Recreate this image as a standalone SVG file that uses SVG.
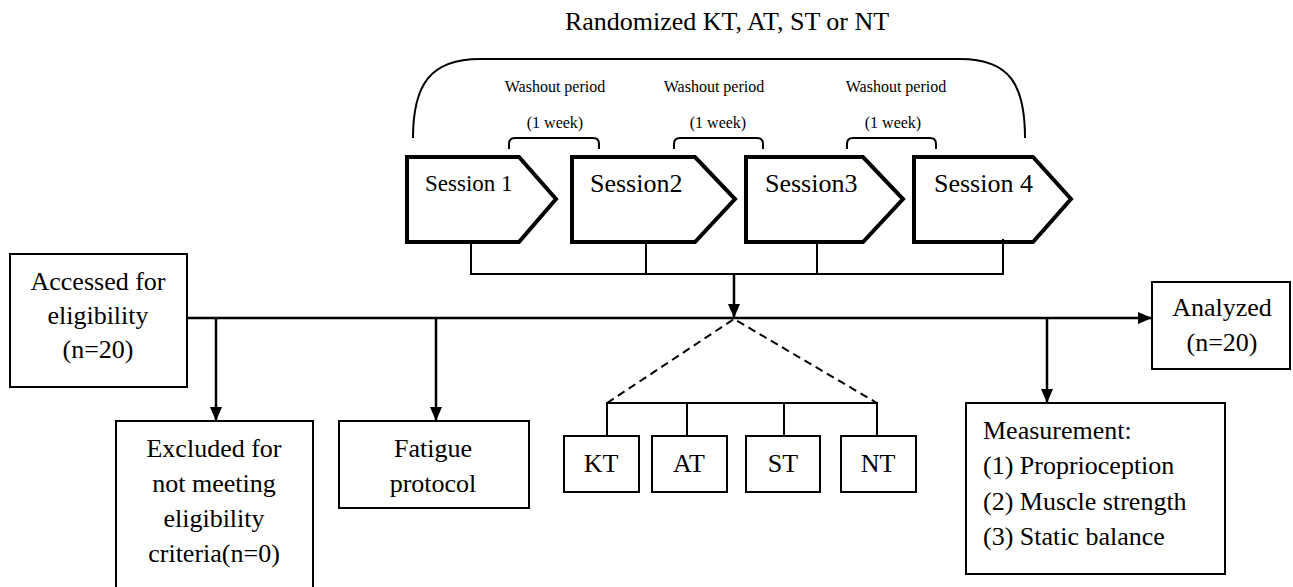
<svg xmlns="http://www.w3.org/2000/svg" width="1293" height="587" viewBox="0 0 1293 587">
<defs>
<style>
text{font-family:"Liberation Serif","Times New Roman",serif;fill:#000;}
.t26{font-size:26px;}
.t16{font-size:16px;}
.box{fill:#fff;stroke:#000;stroke-width:2;}
.sess{fill:#fff;stroke:#000;stroke-width:4;stroke-linejoin:miter;}
.ln{fill:none;stroke:#000;stroke-width:2.5;}
.thin{fill:none;stroke:#000;stroke-width:2;}
.dash{fill:none;stroke:#000;stroke-width:2;stroke-dasharray:8,5;}
</style>
<marker id="ah" markerUnits="userSpaceOnUse" markerWidth="14" markerHeight="12" refX="14" refY="6" orient="auto">
<path d="M0,0 L14,6 L0,12 z" fill="#000"/>
</marker>
</defs>
<rect width="1293" height="587" fill="#fff"/>

<g id="title">
<text class="t26" x="727" y="30" text-anchor="middle">Randomized KT, AT, ST or NT</text>
<path class="thin" d="M413,138 C413,85 430,59 480,59 L960,59 C1010,59 1025,85 1025,138"/>
</g>

<g id="washouts">
<text class="t16" x="555" y="92" text-anchor="middle">Washout period</text>
<text class="t16" x="555" y="128" text-anchor="middle">(1 week)</text>
<path class="thin" d="M509,149 L509,144 Q509,138 515,138 L593,138 Q599,138 599,144 L599,149"/>
<text class="t16" x="714" y="92" text-anchor="middle">Washout period</text>
<text class="t16" x="718" y="128" text-anchor="middle">(1 week)</text>
<path class="thin" d="M674,149 L674,144 Q674,138 680,138 L757,138 Q763,138 763,144 L763,149"/>
<text class="t16" x="896" y="92" text-anchor="middle">Washout period</text>
<text class="t16" x="893" y="128" text-anchor="middle">(1 week)</text>
<path class="thin" d="M847,149 L847,144 Q847,138 853,138 L930,138 Q936,138 936,144 L936,149"/>
</g>

<g id="session1">
<path class="sess" d="M407,157 L519,157 L556,199 L519,242 L407,242 Z"/>
<text x="425" y="191" style="font-size:23px">Session 1</text>
</g>
<g id="session2">
<path class="sess" d="M572,157 L695,157 L735,199 L695,242 L572,242 Z"/>
<text class="t26" x="590" y="192">Session2</text>
</g>
<g id="session3">
<path class="sess" d="M746,157 L863,157 L903,199 L863,242 L746,242 Z"/>
<text class="t26" x="765" y="192">Session3</text>
</g>
<g id="session4">
<path class="sess" d="M914,157 L1033,157 L1071,199 L1033,242 L914,242 Z"/>
<text class="t26" x="934" y="192">Session 4</text>
</g>

<g id="connectors">
<path class="thin" d="M471,244 L471,274 L1003,274 L1003,239 M646,244 L646,274 M817,244 L817,274"/>
<path class="ln" d="M734,274 L734,318" marker-end="url(#ah)"/>
<path class="ln" d="M187,318 L1152,318" marker-end="url(#ah)"/>
<path class="ln" d="M216,318 L216,421" marker-end="url(#ah)"/>
<path class="ln" d="M436,318 L436,421" marker-end="url(#ah)"/>
<path class="ln" d="M1047,318 L1047,403" marker-end="url(#ah)"/>
<path class="dash" d="M607,403 L734,319 L877,403"/>
<path class="thin" d="M607,436 L607,403 L877,403 L877,436 M687,403 L687,436 M784,403 L784,436"/>
</g>

<g id="accessed">
<rect class="box" x="10" y="254" width="177" height="133"/>
<text class="t26" x="98" y="290" text-anchor="middle">Accessed for</text>
<text class="t26" x="98" y="324" text-anchor="middle">eligibility</text>
<text class="t26" x="98" y="358" text-anchor="middle">(n=20)</text>
</g>

<g id="excluded">
<rect class="box" x="116" y="421" width="197" height="180"/>
<text class="t26" x="214" y="457" text-anchor="middle">Excluded for</text>
<text class="t26" x="214" y="492" text-anchor="middle">not meeting</text>
<text class="t26" x="214" y="527" text-anchor="middle">eligibility</text>
<text class="t26" x="214" y="562" text-anchor="middle">criteria(n=0)</text>
</g>

<g id="fatigue">
<rect class="box" x="339" y="421" width="190" height="87"/>
<text class="t26" x="433" y="457" text-anchor="middle">Fatigue</text>
<text class="t26" x="433" y="492" text-anchor="middle">protocol</text>
</g>

<g id="kt">
<rect class="box" x="564" y="436" width="75" height="56"/>
<text class="t26" x="601" y="472" text-anchor="middle">KT</text>
</g>
<g id="at">
<rect class="box" x="652" y="436" width="75" height="56"/>
<text class="t26" x="689" y="472" text-anchor="middle">AT</text>
</g>
<g id="st">
<rect class="box" x="746" y="436" width="74" height="56"/>
<text class="t26" x="783" y="472" text-anchor="middle">ST</text>
</g>
<g id="nt">
<rect class="box" x="841" y="436" width="75" height="56"/>
<text class="t26" x="878" y="472" text-anchor="middle">NT</text>
</g>

<g id="analyzed">
<rect class="box" x="1152" y="282" width="138" height="87"/>
<text class="t26" x="1222" y="316" text-anchor="middle">Analyzed</text>
<text class="t26" x="1222" y="351" text-anchor="middle">(n=20)</text>
</g>

<g id="measurement">
<rect class="box" x="966" y="403" width="259" height="171"/>
<text class="t26" x="983" y="439">Measurement:</text>
<text class="t26" x="983" y="474">(1) Proprioception</text>
<text class="t26" x="983" y="510">(2) Muscle strength</text>
<text class="t26" x="983" y="545">(3) Static balance</text>
</g>
</svg>
